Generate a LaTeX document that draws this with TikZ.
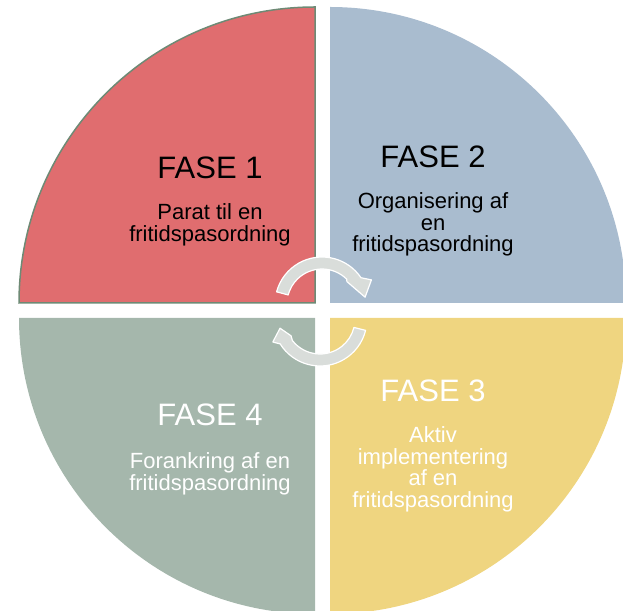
\documentclass[tikz,border=0pt]{standalone}
\usepackage{fontspec}
\setmainfont{Liberation Sans}
\usepackage{tikz}
\usetikzlibrary{positioning}
\definecolor{faseRed}{HTML}{E06D6F}
\definecolor{faseBlue}{HTML}{A9BCCF}
\definecolor{faseYellow}{HTML}{EFD580}
\definecolor{faseGreen}{HTML}{A5B7AC}
\definecolor{rimGreen}{HTML}{6E8A75}
\definecolor{cycGray}{HTML}{D9DDDA}
\tikzset{fase/.style={inner sep=0pt,font=\fontsize{31}{36}\selectfont},
  fasetext/.style={inner sep=0pt,align=center,font=\fontsize{22}{21.5}\selectfont},
  cycarrow/.style={fill=cycGray,draw=white,line width=1.2pt,line join=round}}

\begin{document}
\begin{tikzpicture}[x=1pt,y=1pt,semithick]
\useasboundingbox(0,0)rectangle(623,610);
\coordinate(A)at(315,307);\coordinate(B)at(330,307);
\coordinate(C)at(330,292);\coordinate(D)at(315,292);
\fill[faseBlue](B)--++(0,296)arc[start angle=90,end angle=0,radius=296]--cycle;
\fill[faseYellow](C)--++(296,0)arc[start angle=0,end angle=-90,radius=296]--cycle;
\fill[faseGreen](D)--++(0,-296)arc[start angle=270,end angle=180,radius=296]--cycle;
\filldraw[fill=faseRed,draw=rimGreen,line width=1.5pt](A)--++(-296,0)arc[start angle=180,end angle=90,radius=296]--cycle;

\node[fase](f1)at(210,442){FASE 1};
\node[fasetext,below=24pt of f1](t1){Parat til en\\fritidspasordning};
\node[fase](f2)at(433,453){FASE 2};
\node[fasetext,below=24pt of f2](t2){Organisering af\\en\\fritidspasordning};
\node[fase,white](f3)at(433,219){FASE 3};
\node[fasetext,white,below=24pt of f3](t3){Aktiv\\implementering\\af en\\fritidspasordning};
\node[fase,white](f4)at(210,195){FASE 4};
\node[fasetext,white,below=26pt of f4](t4){Forankring af en\\fritidspasordning};

\begin{scope}[shift={(322,306)}]
\draw[cycarrow](165:47)arc[start angle=165,end angle=34,radius=47]--(26:55)--(9:43.6)--(42:33.5)--(45:35)
  arc[start angle=45,end angle=165,radius=35]--cycle;
\end{scope}
\begin{scope}[shift={(320,291)}]
\draw[cycarrow](-14:47)arc[start angle=-14,end angle=-148,radius=47]--(-154:52.5)--(-167:41)--(-150:33.5)--(-142:35)
  arc[start angle=-142,end angle=-14,radius=35]--cycle;
\end{scope}
\end{tikzpicture}
\end{document}
